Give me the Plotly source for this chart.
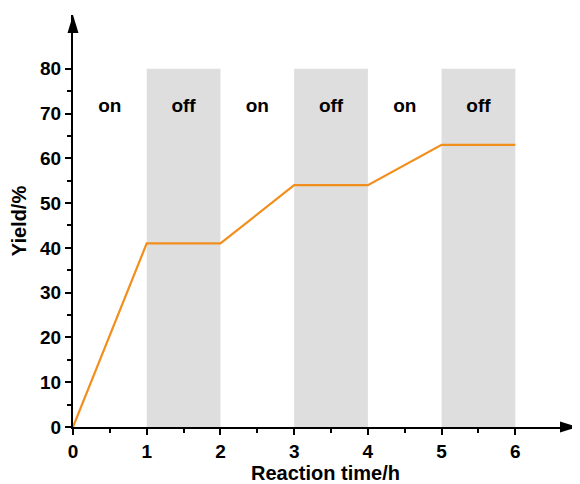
import plotly.graph_objects as go

time_h = [0, 1, 2, 3, 4, 5, 6]
yield_pct = [0, 41, 41, 54, 54, 63, 63]
off_intervals = [(1, 2), (3, 4), (5, 6)]
label_x = [0.5, 1.5, 2.5, 3.5, 4.5, 5.5]
label_text = ["on", "off", "on", "off", "on", "off"]
label_y = 71.5
x_ticks = [0, 1, 2, 3, 4, 5, 6]
y_ticks = [0, 10, 20, 30, 40, 50, 60, 70, 80]

fig = go.Figure()
fig.add_trace(go.Scatter(x=time_h, y=yield_pct, mode="lines",
                         line=dict(color="#F28E1C", width=2.2),
                         showlegend=False, cliponaxis=False))
fig.add_trace(go.Scatter(x=label_x, y=[label_y] * len(label_x), mode="text",
                         text=label_text,
                         textfont=dict(family="Liberation Sans", size=19, color="black"),
                         texttemplate="<b>%{text}</b>", showlegend=False))

for a, b in off_intervals:
    fig.add_shape(type="rect", xref="x", yref="y", x0=a, x1=b, y0=0, y1=80,
                  fillcolor="#DEDEDE", line=dict(width=0), layer="below")

# arrowheads
fig.add_shape(type="path", xref="paper", yref="paper", xsizemode="pixel", ysizemode="pixel",
              xanchor=1, yanchor=0, path="M 0 0 L -18 5.5 L -18 -5.5 Z",
              fillcolor="black", line=dict(width=0))
fig.add_shape(type="path", xref="paper", yref="paper", xsizemode="pixel", ysizemode="pixel",
              xanchor=0, yanchor=1, path="M 0 0 L -5.5 -18 L 5.5 -18 Z",
              fillcolor="black", line=dict(width=0))

tick_font = dict(family="Liberation Sans", size=19, color="black")
title_font = dict(family="Liberation Sans", size=20, color="black")
fig.update_xaxes(range=[0, 6.85], tickvals=x_ticks, ticktext=[f"<b>{v}</b>" for v in x_ticks],
                 showline=True, linecolor="black", linewidth=2,
                 ticks="outside", ticklen=6, tickwidth=1.8, tickcolor="black",
                 minor=dict(tickvals=[0.5, 1.5, 2.5, 3.5, 4.5, 5.5], ticks="outside",
                            ticklen=4, tickwidth=1.5, tickcolor="black"),
                 showgrid=False, zeroline=False, tickfont=tick_font,
                 title=dict(text="<b>Reaction time/h</b>", font=title_font, standoff=3))
fig.update_yaxes(range=[0, 92], tickvals=y_ticks, ticktext=[f"<b>{v}</b>" for v in y_ticks],
                 showline=True, linecolor="black", linewidth=2,
                 ticks="outside", ticklen=6, tickwidth=1.8, tickcolor="black",
                 minor=dict(tickvals=[5, 15, 25, 35, 45, 55, 65, 75], ticks="outside",
                            ticklen=4, tickwidth=1.5, tickcolor="black"),
                 showgrid=False, zeroline=False, tickfont=tick_font,
                 title=dict(text="<b>Yield/%</b>", font=title_font, standoff=8))

# page body has an 8px margin, so the figure is 8px smaller and shifted
fig.update_layout(width=572, height=476, margin=dict(l=65, r=2, t=7, b=57),
                  plot_bgcolor="white", paper_bgcolor="white")
fig.write_html("out.html")
